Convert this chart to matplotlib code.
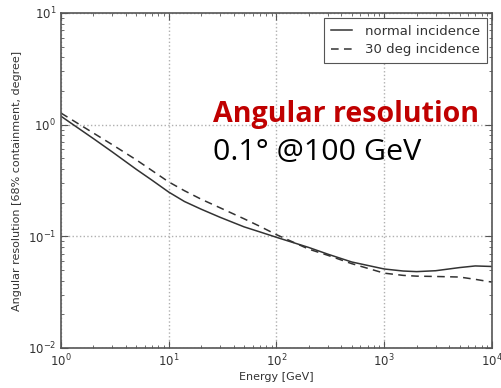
import matplotlib
matplotlib.use("Agg")
import matplotlib.pyplot as plt
from matplotlib.ticker import LogLocator, NullFormatter

# energies [GeV] and angular resolution [deg]
energy = [1, 2, 3, 5, 7, 10, 14, 20, 30, 50, 70, 100, 200, 300, 500,
          1000, 1500, 2000, 3000, 5000, 7000, 10000]
res_normal = [1.19, 0.750, 0.569, 0.398, 0.318, 0.249, 0.205, 0.175, 0.148,
              0.1216, 0.1096, 0.098, 0.0794, 0.0692, 0.0589, 0.051, 0.0489,
              0.0483, 0.0492, 0.0525, 0.0543, 0.0537]
res_30deg = [1.27, 0.841, 0.661, 0.484, 0.388, 0.307, 0.256, 0.215, 0.180,
             0.1436, 0.123, 0.1035, 0.0767, 0.0676, 0.0569, 0.0468, 0.0447,
             0.044, 0.0437, 0.0432, 0.0412, 0.0389]

fig = plt.figure(figsize=(5.02, 3.88), dpi=100)
ax = fig.add_axes([0.1215, 0.1031, 0.8585, 0.8634])

ax.plot(energy, res_normal, color="#333333", lw=1.1, label="normal incidence")
ax.plot(energy, res_30deg, color="#333333", lw=1.1, ls=(0, (5, 3.5)),
        label="30 deg incidence")

ax.set_xscale("log")
ax.set_yscale("log")
ax.set_xlim(1, 1e4)
ax.set_ylim(1e-2, 1e1)

ax.grid(True, which="major", ls=":", color="#b0b0b0", lw=1)
ax.xaxis.set_minor_locator(LogLocator(base=10, subs=range(2, 10)))
ax.yaxis.set_minor_locator(LogLocator(base=10, subs=range(2, 10)))
ax.xaxis.set_minor_formatter(NullFormatter())
ax.yaxis.set_minor_formatter(NullFormatter())
ax.tick_params(which="both", direction="in", top=True, right=True,
               color="#555555", labelsize=8.5, labelcolor="#333333")
ax.tick_params(which="major", length=5, width=0.8)
ax.tick_params(which="minor", length=2.5, width=0.6)
for s in ax.spines.values():
    s.set_color("#555555")
    s.set_linewidth(1.2)

ax.set_xlabel("Energy [GeV]", fontsize=8, color="#333333", labelpad=2)
ax.set_ylabel("Angular resolution [68% containment, degree]", fontsize=8,
              color="#333333", labelpad=4)

leg = ax.legend(loc="upper right", fontsize=9.5, fancybox=False,
                framealpha=1, edgecolor="#555555", handlelength=1.6,
                handletextpad=1.0, borderpad=0.5, labelspacing=0.4,
                borderaxespad=0.4)
for t in leg.get_texts():
    t.set_color("#333333")
leg.get_frame().set_linewidth(0.8)

# overlay annotation, scaled to the width it has in the picture
t1 = fig.text(213 / 502, 1 - 122 / 388, "Angular resolution", fontsize=17,
              fontweight="bold", color="#C00000", family="Open Sans",
              va="baseline")
t2 = fig.text(213 / 502, 1 - 160 / 388, "0.1\u00b0 @100 GeV", fontsize=17,
              color="black", family="Open Sans", va="baseline")
r = fig.canvas.get_renderer()
for t, w in ((t1, 267), (t2, 209)):
    t.set_fontsize(17 * w / t.get_window_extent(r).width)

fig.savefig("out.png", dpi=100)
